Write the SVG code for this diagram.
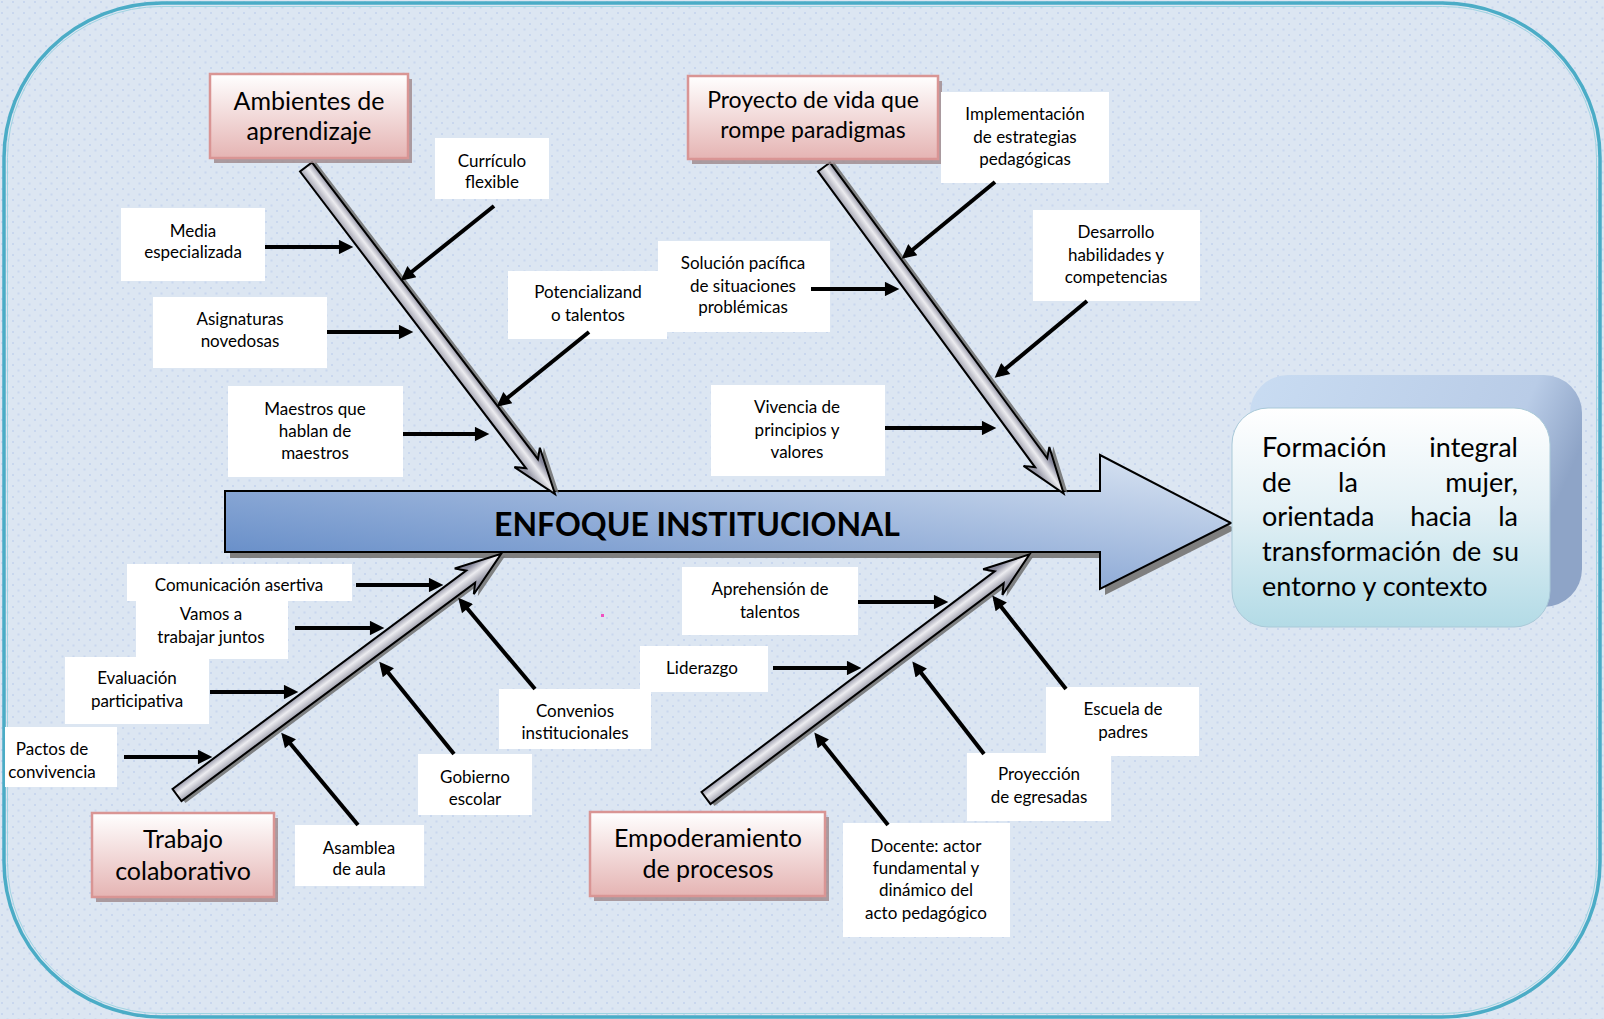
<svg xmlns="http://www.w3.org/2000/svg" width="1604" height="1019" viewBox="0 0 1604 1019">
<defs>
<pattern id="dots" width="11" height="11" patternUnits="userSpaceOnUse">
<rect width="11" height="11" fill="#dce6f2"/>
<rect x="1" y="1" width="2" height="2" fill="#c9d7ee"/>
<rect x="6.5" y="6.5" width="2" height="2" fill="#c9d7ee"/>
</pattern>
<linearGradient id="mainG" x1="0" y1="1" x2="1" y2="0">
<stop offset="0" stop-color="#5883c3"/>
<stop offset="0.5" stop-color="#98b2da"/>
<stop offset="1" stop-color="#dde7f4"/>
</linearGradient>
<linearGradient id="pinkG" x1="0" y1="0" x2="0" y2="1">
<stop offset="0" stop-color="#ffffff"/>
<stop offset="1" stop-color="#e5b4b3"/>
</linearGradient>
<linearGradient id="boneG" gradientUnits="userSpaceOnUse" x1="0" y1="-9" x2="0" y2="9">
<stop offset="0" stop-color="#85869a"/>
<stop offset="0.45" stop-color="#ececf0"/>
<stop offset="1" stop-color="#9697a6"/>
</linearGradient>
<linearGradient id="frontG" x1="0" y1="0" x2="0" y2="1">
<stop offset="0" stop-color="#ffffff"/>
<stop offset="0.45" stop-color="#e4f1f6"/>
<stop offset="1" stop-color="#b3dbe6"/>
</linearGradient>
<linearGradient id="backG" x1="0" y1="0" x2="1" y2="0.3">
<stop offset="0" stop-color="#c9dcf2"/>
<stop offset="0.8" stop-color="#b9cce7"/>
<stop offset="1" stop-color="#8ea4c7"/>
</linearGradient>
<marker id="ah" viewBox="0 0 10 10" markerWidth="4" markerHeight="3.6" refX="7" refY="5" orient="auto" markerUnits="strokeWidth">
<path d="M0,0 L10,5 L0,10 z" fill="#000"/>
</marker>
<style>
.t { font-family: Lato, 'Liberation Sans', sans-serif; font-size: 17px; fill: #000; text-anchor: middle; }
.cat { font-size: 25px; }
.eff { font-family: Lato, 'Liberation Sans', sans-serif; font-size: 27px; fill: #000; }
.box { fill: #ffffff; }
.cbox { fill: url(#pinkG); stroke: #d99594; stroke-width: 2.5; }
.cshadow { fill: #9e8789; opacity: 0.8; }
.arr { stroke: #000; stroke-width: 4; fill: none; marker-end: url(#ah); }
.bone { fill: url(#boneG); stroke: #000; stroke-width: 2; }
.boneS { fill: #6e6e6e; opacity: 0.85; }
</style>
</defs>

<rect width="1604" height="1019" fill="url(#dots)"/>
<rect x="4" y="3" width="1596" height="1014" rx="158" ry="155" fill="none" stroke="#4bacc6" stroke-width="3.5"/>
<rect x="7.5" y="6.5" width="1589" height="1007" rx="154" ry="151" fill="none" stroke="#9fd4e2" stroke-width="1"/>

<!-- main spine -->
<g id="spine">
<polygon points="230,497 1105,497 1105,461 1236,529 1105,595 1105,558 230,558" fill="#7f7f7f"/>
<polygon points="225,491 1100,491 1100,455 1231,523 1100,589 1100,552 225,552" fill="url(#mainG)" stroke="#000" stroke-width="2"/>
<text x="697" y="536" style="font-family: Lato, 'Liberation Sans', sans-serif; font-size: 32px; font-weight: bold; text-anchor: middle; fill:#000;">ENFOQUE INSTITUCIONAL</text>
</g>

<!-- bones -->
<g id="bones">
<g transform="translate(306,167) rotate(52.71)">
<polygon class="boneS" transform="translate(2,-3.5)" points="0,-7.5 373,-7.5 365,-16 411,0 365,16 373,7.5 0,7.5"/>
<polygon class="bone" points="0,-7.5 373,-7.5 365,-16 411,0 365,16 373,7.5 0,7.5"/>
</g>
<g transform="translate(824,167) rotate(53.72)">
<polygon class="boneS" transform="translate(2,-3.5)" points="0,-7.5 367,-7.5 359,-16 405,0 359,16 367,7.5 0,7.5"/>
<polygon class="bone" points="0,-7.5 367,-7.5 359,-16 405,0 359,16 367,7.5 0,7.5"/>
</g>
<g transform="translate(177,795) rotate(-36.64)">
<polygon class="boneS" transform="translate(2,4)" points="0,-7.5 366,-7.5 358,-16 404,0 358,16 366,7.5 0,7.5"/>
<polygon class="bone" points="0,-7.5 366,-7.5 358,-16 404,0 358,16 366,7.5 0,7.5"/>
</g>
<g transform="translate(706,798) rotate(-36.98)">
<polygon class="boneS" transform="translate(2,4)" points="0,-7.5 367,-7.5 359,-16 405,0 359,16 367,7.5 0,7.5"/>
<polygon class="bone" points="0,-7.5 367,-7.5 359,-16 405,0 359,16 367,7.5 0,7.5"/>
</g>
</g>

<!-- category nodes -->
<g id="cat-ambientes">
<rect class="cshadow" x="214" y="79" width="198" height="84"/>
<rect class="cbox" x="210" y="74" width="198" height="84"/>
<text class="t cat" x="309" y="110">Ambientes de</text>
<text class="t cat" x="309" y="140">aprendizaje</text>
</g>
<g id="cat-proyecto">
<rect class="cshadow" x="692" y="81" width="250" height="83"/>
<rect class="cbox" x="688" y="76" width="250" height="83"/>
<text class="t cat" x="813" y="108" style="font-size:23px">Proyecto de vida que</text>
<text class="t cat" x="813" y="138" style="font-size:23px">rompe paradigmas</text>
</g>
<g id="cat-trabajo">
<rect class="cshadow" x="96" y="818" width="182" height="84"/>
<rect class="cbox" x="92" y="813" width="182" height="84"/>
<text class="t cat" x="183" y="848">Trabajo</text>
<text class="t cat" x="183" y="880">colaborativo</text>
</g>
<g id="cat-empoderamiento">
<rect class="cshadow" x="594" y="817" width="235" height="84"/>
<rect class="cbox" x="590" y="812" width="235" height="84"/>
<text class="t cat" x="708" y="847">Empoderamiento</text>
<text class="t cat" x="708" y="878">de procesos</text>
</g>

<!-- effect node -->
<g id="effect">
<rect x="1250" y="375" width="332" height="232" rx="38" fill="url(#backG)"/>
<rect x="1232" y="408" width="318" height="219" rx="36" fill="url(#frontG)" stroke="#a9c9d8" stroke-width="1"/>
<text class="eff" x="1262" y="457">Formación</text>
<text class="eff" x="1518" y="457" text-anchor="end">integral</text>
<text class="eff" x="1262" y="492">de</text>
<text class="eff" x="1348" y="492" text-anchor="middle">la</text>
<text class="eff" x="1518" y="492" text-anchor="end">mujer,</text>
<text class="eff" x="1262" y="526">orientada</text>
<text class="eff" x="1441" y="526" text-anchor="middle">hacia</text>
<text class="eff" x="1518" y="526" text-anchor="end">la</text>
<text class="eff" x="1262" y="561" style="word-spacing:4px">transformación de su</text>
<text class="eff" x="1262" y="596">entorno y contexto</text>
</g>

<!-- cause nodes -->
<g id="c-curriculo"><rect class="box" x="435" y="138" width="114" height="61"/>
<text class="t" x="492" y="167">Currículo</text><text class="t" x="492" y="188">flexible</text></g>
<g id="c-media"><rect class="box" x="121" y="208" width="144" height="73"/>
<text class="t" x="193" y="237">Media</text><text class="t" x="193" y="258">especializada</text></g>
<g id="c-asignaturas"><rect class="box" x="153" y="297" width="174" height="71"/>
<text class="t" x="240" y="325">Asignaturas</text><text class="t" x="240" y="347">novedosas</text></g>
<g id="c-maestros"><rect class="box" x="228" y="386" width="175" height="91"/>
<text class="t" x="315" y="415">Maestros que</text><text class="t" x="315" y="437">hablan de</text><text class="t" x="315" y="459">maestros</text></g>
<g id="c-potencializando"><rect class="box" x="508" y="271" width="159" height="68"/>
<text class="t" x="588" y="298">Potencializand</text><text class="t" x="588" y="321">o talentos</text></g>
<g id="c-implementacion"><rect class="box" x="941" y="92" width="168" height="91"/>
<text class="t" x="1025" y="120">Implementación</text><text class="t" x="1025" y="143">de estrategias</text><text class="t" x="1025" y="165">pedagógicas</text></g>
<g id="c-solucion"><rect class="box" x="658" y="241" width="172" height="91"/>
<text class="t" x="743" y="269">Solución pacífica</text><text class="t" x="743" y="292">de situaciones</text><text class="t" x="743" y="313">problémicas</text></g>
<g id="c-desarrollo"><rect class="box" x="1033" y="210" width="167" height="91"/>
<text class="t" x="1116" y="238">Desarrollo</text><text class="t" x="1116" y="261">habilidades y</text><text class="t" x="1116" y="283">competencias</text></g>
<g id="c-vivencia"><rect class="box" x="711" y="385" width="174" height="91"/>
<text class="t" x="797" y="413">Vivencia de</text><text class="t" x="797" y="436">principios y</text><text class="t" x="797" y="458">valores</text></g>
<g id="c-comunicacion"><rect class="box" x="127" y="564" width="225" height="37"/>
<text class="t" x="239" y="591">Comunicación asertiva</text></g>
<g id="c-vamos"><rect class="box" x="136" y="601" width="152" height="58"/>
<text class="t" x="211" y="620">Vamos a</text><text class="t" x="211" y="643">trabajar juntos</text></g>
<g id="c-evaluacion"><rect class="box" x="65" y="657" width="144" height="67"/>
<text class="t" x="137" y="684">Evaluación</text><text class="t" x="137" y="707">participativa</text></g>
<g id="c-pactos"><rect class="box" x="5" y="727" width="112" height="60"/>
<text class="t" x="52" y="755">Pactos de</text><text class="t" x="52" y="778">convivencia</text></g>
<g id="c-asamblea"><rect class="box" x="295" y="825" width="129" height="61"/>
<text class="t" x="359" y="854">Asamblea</text><text class="t" x="359" y="875">de aula</text></g>
<g id="c-gobierno"><rect class="box" x="418" y="754" width="114" height="61"/>
<text class="t" x="475" y="783">Gobierno</text><text class="t" x="475" y="805">escolar</text></g>
<g id="c-convenios"><rect class="box" x="499" y="689" width="152" height="60"/>
<text class="t" x="575" y="717">Convenios</text><text class="t" x="575" y="739">institucionales</text></g>
<g id="c-aprehension"><rect class="box" x="682" y="567" width="176" height="68"/>
<text class="t" x="770" y="595">Aprehensión de</text><text class="t" x="770" y="618">talentos</text></g>
<g id="c-liderazgo"><rect class="box" x="640" y="646" width="128" height="46"/>
<text class="t" x="702" y="674">Liderazgo</text></g>
<g id="c-escuela"><rect class="box" x="1046" y="687" width="153" height="69"/>
<text class="t" x="1123" y="715">Escuela de</text><text class="t" x="1123" y="738">padres</text></g>
<g id="c-proyeccion"><rect class="box" x="967" y="753" width="144" height="68"/>
<text class="t" x="1039" y="780">Proyección</text><text class="t" x="1039" y="803">de egresadas</text></g>
<g id="c-docente"><rect class="box" x="843" y="823" width="167" height="114"/>
<text class="t" x="926" y="852">Docente: actor</text><text class="t" x="926" y="874">fundamental y</text><text class="t" x="926" y="896">dinámico del</text><text class="t" x="926" y="919">acto pedagógico</text></g>

<!-- connectors -->
<g id="connectors">
<line class="arr" x1="265" y1="247" x2="349" y2="247"/>
<line class="arr" x1="494" y1="206" x2="404" y2="278"/>
<line class="arr" x1="327" y1="332" x2="409" y2="332"/>
<line class="arr" x1="403" y1="434" x2="485" y2="434"/>
<line class="arr" x1="589" y1="332" x2="500" y2="404"/>
<line class="arr" x1="995" y1="182" x2="905" y2="256"/>
<line class="arr" x1="811" y1="289" x2="895" y2="289"/>
<line class="arr" x1="1087" y1="301" x2="998" y2="375"/>
<line class="arr" x1="885" y1="428" x2="992" y2="428"/>
<line class="arr" x1="356" y1="585" x2="439" y2="585"/>
<line class="arr" x1="295" y1="628" x2="380" y2="628"/>
<line class="arr" x1="210" y1="692" x2="294" y2="692"/>
<line class="arr" x1="124" y1="757" x2="208" y2="757"/>
<line class="arr" x1="358" y1="825" x2="284" y2="736"/>
<line class="arr" x1="454" y1="754" x2="382" y2="665"/>
<line class="arr" x1="535" y1="689" x2="461" y2="601"/>
<line class="arr" x1="858" y1="602" x2="944" y2="602"/>
<line class="arr" x1="773" y1="668" x2="857" y2="668"/>
<line class="arr" x1="1066" y1="689" x2="995" y2="599"/>
<line class="arr" x1="984" y1="754" x2="915" y2="665"/>
<line class="arr" x1="888" y1="825" x2="817" y2="736"/>
</g>

<rect x="601" y="614" width="3" height="3" fill="#f04fc0"/>
</svg>
